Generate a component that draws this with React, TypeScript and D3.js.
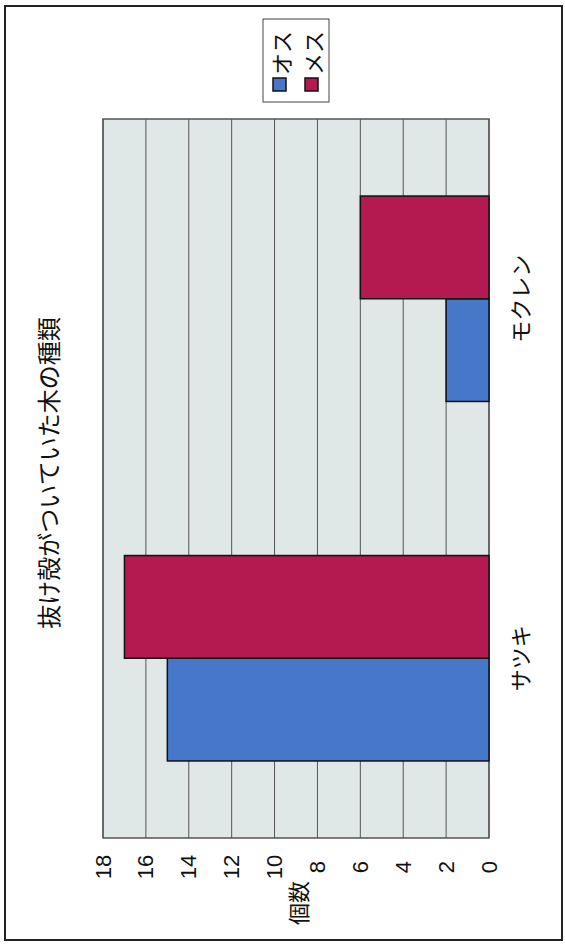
import React from "react";
import * as d3 from "d3";

// Tree species where the shells were found, and counts per sex
const categories = ["サツキ", "モクレン"];
const seriesNames = ["オス", "メス"];
const maleCounts = [15, 2];
const femaleCounts = [17, 6];
const valueTicks = [0, 2, 4, 6, 8, 10, 12, 14, 16, 18];
const seriesColors = ["#4677c8", "#b4194f"];

const W = 565;
const H = 944;
// plot area (chart is laid out turned on its side: values run right-to-left)
const plot = { left: 103, right: 489, top: 119, bottom: 838 };

const jp = "'Noto Sans CJK JP', 'Noto Sans', sans-serif";
const num = "'Liberation Sans', Arial, sans-serif";

export default function App() {
  const x = d3.scaleLinear().domain([0, 18]).range([plot.right, plot.left]);
  const y = d3
    .scaleBand<string>()
    .domain(categories)
    .range([plot.bottom, plot.top])
    .padding(0);
  const bw = y.bandwidth();
  const barW = bw / 3.5;
  const inner = d3
    .scaleBand<string>()
    .domain(seriesNames)
    .range([barW, -barW])
    .padding(0);

  const values = [maleCounts, femaleCounts];

  const rot = (cx: number, cy: number) => `translate(${cx},${cy}) rotate(-90)`;

  return (
    <svg
      width={W}
      height={H}
      style={{ position: "absolute", left: 0, top: 0, background: "#fff" }}
    >
      <rect x={0} y={0} width={W} height={H} fill="#fff" />
      {/* outer frame */}
      <rect x={5} y={6} width={557} height={934} fill="none" stroke="#222" strokeWidth={2} />

      {/* plot background */}
      <rect
        x={plot.left}
        y={plot.top}
        width={plot.right - plot.left}
        height={plot.bottom - plot.top}
        fill="#dfe7e7"
      />
      {/* gridlines */}
      {valueTicks.map((t) => (
        <line
          key={t}
          x1={x(t)}
          x2={x(t)}
          y1={plot.top}
          y2={plot.bottom}
          stroke="#555"
          strokeWidth={1}
        />
      ))}
      <rect
        x={plot.left}
        y={plot.top}
        width={plot.right - plot.left}
        height={plot.bottom - plot.top}
        fill="none"
        stroke="#555"
        strokeWidth={1.5}
      />

      {/* bars */}
      {categories.map((c, ci) => {
        const cy = (y(c) ?? 0) + bw / 2;
        return seriesNames.map((s, si) => {
          const v = values[si][ci];
          const top = cy + (inner(s) ?? 0);
          return (
            <rect
              key={c + s}
              x={x(v)}
              y={top}
              width={x(0) - x(v)}
              height={inner.bandwidth()}
              fill={seriesColors[si]}
              stroke="#111"
              strokeWidth={1.5}
            />
          );
        });
      })}

      {/* value tick labels */}
      {valueTicks.map((t) => (
        <text
          key={t}
          transform={rot(x(t), 867)}
          textAnchor="middle"
          dominantBaseline="central"
          fontFamily={num}
          fontSize={22}
          fill="#111"
        >
          {t}
        </text>
      ))}
      {/* value axis title */}
      <text
        transform={rot(297, 903)}
        textAnchor="middle"
        dominantBaseline="central"
        fontFamily={jp}
        fontSize={22}
        fill="#111"
      >
        個数
      </text>

      {/* category labels */}
      {categories.map((c) => (
        <text
          key={c}
          transform={rot(519, (y(c) ?? 0) + bw / 2)}
          textAnchor="middle"
          dominantBaseline="central"
          fontFamily={jp}
          fontSize={22}
          fill="#111"
        >
          {c}
        </text>
      ))}

      {/* title */}
      <text
        transform={rot(47, 473)}
        textAnchor="middle"
        dominantBaseline="central"
        fontFamily={jp}
        fontSize={24}
        fill="#111"
      >
        抜け殻がついていた木の種類
      </text>

      {/* legend */}
      <rect x={263} y={19} width={66} height={83} fill="#fff" stroke="#444" strokeWidth={1} />
      {seriesNames.map((s, i) => {
        const cx = 280 + i * 32;
        return (
          <g key={s}>
            <rect
              x={cx - 7}
              y={78}
              width={13}
              height={13}
              fill={seriesColors[i]}
              stroke="#111"
              strokeWidth={1.5}
            />
            <text
              transform={rot(cx, 75)}
              textAnchor="start"
              dominantBaseline="central"
              fontFamily={jp}
              fontSize={22}
              fill="#111"
            >
              {s}
            </text>
          </g>
        );
      })}
    </svg>
  );
}
